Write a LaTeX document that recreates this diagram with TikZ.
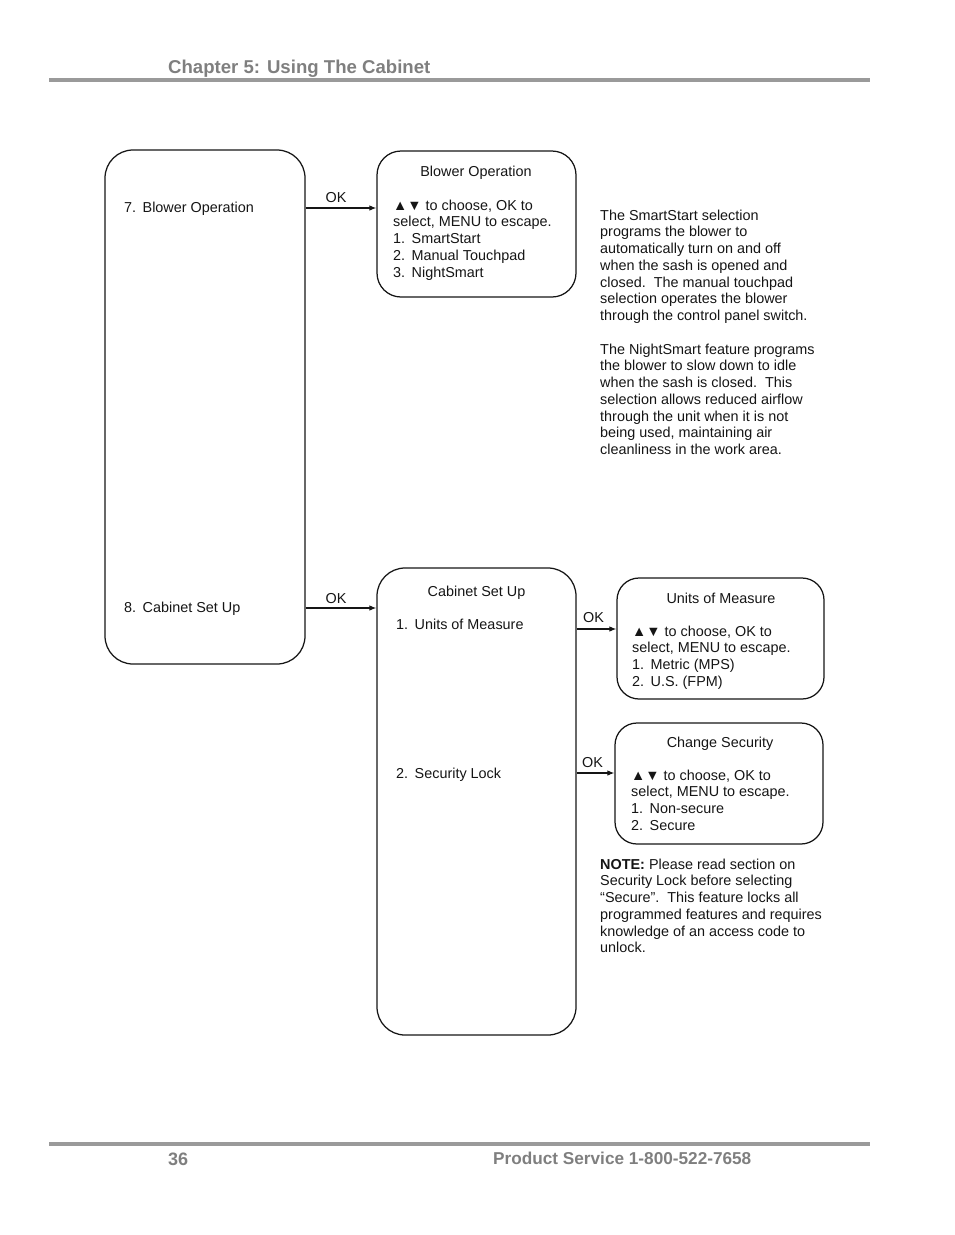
\documentclass[tikz,border=0pt]{standalone}
\usepackage{fontspec}
\setmainfont{Liberation Sans}
\usetikzlibrary{arrows.meta}
\definecolor{hdr}{HTML}{7F7F7F}
\definecolor{rulec}{HTML}{9A9A9A}
\definecolor{ink}{HTML}{151515}
\begin{document}
\begin{tikzpicture}[x=1pt,y=-1pt,
  box/.style={draw=ink,line width=1.25pt,rounded corners=#1,inner sep=0pt},
  box/.default=24pt,
  txt/.style={font=\fontsize{14.4}{16.75}\selectfont,inner sep=0pt,align=left,anchor=north west,text=ink},
  ttl/.style={font=\fontsize{14.4}{16.75}\selectfont,inner sep=0pt,anchor=base,text=ink},
  oklbl/.style={font=\fontsize{14.4}{16.75}\selectfont,inner sep=0pt,anchor=base,text=ink},
  arr/.style={draw=ink,line width=1.1pt,-{Latex[length=7pt,width=5.5pt]}},
  hrule/.style={draw=rulec,line width=3.2pt},
  hdrtxt/.style={font=\bfseries,text=hdr,inner sep=0pt,anchor=base west}]
\useasboundingbox (0,0) rectangle (954,1235);

% header and footer
\coordinate (hl) at (49,80);
\coordinate (hr) at (870,80);
\draw[hrule] (hl) -- (hr);
\node[hdrtxt,font=\fontsize{18.6}{20}\bfseries] (head) at (168,73) {Chapter 5: Using The Cabinet};
\coordinate (fl) at (49,1144);
\coordinate (fr) at (870,1144);
\draw[hrule] (fl) -- (fr);
\node[hdrtxt,font=\fontsize{18}{20}\bfseries] (pg) at (168,1165) {36};
\node[hdrtxt,font=\fontsize{17.2}{20}\bfseries] (svc) at (493,1164) {Product Service 1-800-522-7658};

% boxes
\node[box=28pt,minimum width=200pt,minimum height=514pt] (A) at (205,407) {};
\node[box,minimum width=199pt,minimum height=146pt] (B) at (476.5,224) {};
\node[box=28pt,minimum width=199pt,minimum height=467pt] (C) at (476.5,801.5) {};
\node[box=22pt,minimum width=207pt,minimum height=121pt] (D) at (720.5,638.5) {};
\node[box=22pt,minimum width=208pt,minimum height=121pt] (E) at (719,783.5) {};

% box A texts
\node[txt] (a7) at (124,200.3) {\strut 7.\hspace{0.45em}Blower Operation};
\node[txt] (a8) at (124,600.3) {\strut 8.\hspace{0.45em}Cabinet Set Up};

% box B
\node[ttl] (bt) at (476,176) {Blower Operation};
\node[txt] (bb) at (393,198.3) {\strut ▲▼ to choose, OK to\\select, MENU to escape.\\1.\hspace{0.45em}SmartStart\\2.\hspace{0.45em}Manual Touchpad\\3.\hspace{0.45em}NightSmart};

% box C
\node[ttl] (ct) at (476.5,596) {Cabinet Set Up};
\node[txt] (c1) at (396,617.3) {\strut 1.\hspace{0.45em}Units of Measure};
\node[txt] (c2) at (396,766.3) {\strut 2.\hspace{0.45em}Security Lock};

% box D
\node[ttl] (dt) at (721,603) {Units of Measure};
\node[txt] (db) at (632,624.3) {\strut ▲▼ to choose, OK to\\select, MENU to escape.\\1.\hspace{0.45em}Metric (MPS)\\2.\hspace{0.45em}U.S. (FPM)};

% box E
\node[ttl] (et) at (720,747) {Change Security};
\node[txt] (eb) at (631,768.3) {\strut ▲▼ to choose, OK to\\select, MENU to escape.\\1.\hspace{0.45em}Non-secure\\2.\hspace{0.45em}Secure};

% side texts
\node[txt] (side1) at (600,208.3) {\strut The SmartStart selection\\programs the blower to\\automatically turn on and off\\when the sash is opened and\\closed.\ \ The manual touchpad\\selection operates the blower\\through the control panel switch.\\[16.75pt]The NightSmart feature programs\\the blower to slow down to idle\\when the sash is closed.\ \ This\\selection allows reduced airflow\\through the unit when it is not\\being used, maintaining air\\cleanliness in the work area.};
\node[txt] (note) at (600,857.3) {\strut\textbf{NOTE:} Please read section on\\Security Lock before selecting\\“Secure”.\ \ This feature locks all\\programmed features and requires\\knowledge of an access code to\\unlock.};

% connectors
\coordinate (y1) at (0,208);
\coordinate (y2) at (0,608);
\coordinate (y3) at (0,629);
\coordinate (y4) at (0,773);
\draw[arr] (A.east |- y1) -- (B.west |- y1);
\draw[arr] (A.east |- y2) -- (C.west |- y2);
\draw[arr] (C.east |- y3) -- (D.west |- y3);
\draw[arr] (C.east |- y4) -- (E.west |- y4);
\node[oklbl] (ok1) at (336,202) {OK};
\node[oklbl] (ok2) at (336,603) {OK};
\node[oklbl] (ok3) at (593.5,622) {OK};
\node[oklbl] (ok4) at (592.5,767) {OK};
\end{tikzpicture}
\end{document}
